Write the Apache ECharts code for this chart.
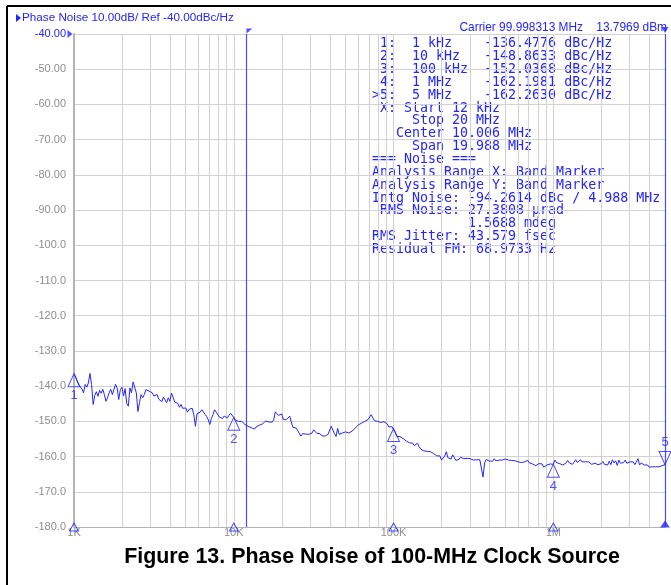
<!DOCTYPE html>
<html>
<head>
<meta charset="utf-8">
<script src="https://cdn.jsdelivr.net/npm/echarts@6/dist/echarts.min.js"></script>
<style>
  html, body { margin: 0; padding: 0; background: #fff; }
  #chart { width: 671px; height: 585px; }
</style>
</head>
<body>
<div id="chart"></div>
<script>
// offset frequency in kHz (log spaced)
const freqKHz = [
  1.000, 1.047, 1.096, 1.148, 1.202, 1.259, 1.318, 1.380, 1.445, 1.514, 1.585, 1.660, 1.738, 1.820, 1.905, 1.995, 2.089,
  2.188, 2.291, 2.399, 2.512, 2.630, 2.754, 2.884, 3.020, 3.162, 3.311, 3.467, 3.631, 3.802, 3.981, 4.169, 4.365, 4.571,
  4.786, 5.012, 5.248, 5.495, 5.754, 6.026, 6.310, 6.607, 6.918, 7.244, 7.586, 7.943, 8.318, 8.710, 9.120, 9.550,
  10.00, 10.47, 10.96, 11.48, 12.02, 12.59, 13.18, 13.80, 14.45, 15.14, 15.85, 16.60, 17.38, 18.20, 19.05, 19.95, 20.89,
  21.88, 22.91, 23.99, 25.12, 26.30, 27.54, 28.84, 30.20, 31.62, 33.11, 34.67, 36.31, 38.02, 39.81, 41.69, 43.65, 45.71,
  47.86, 50.12, 52.48, 54.95, 57.54, 60.26, 63.10, 66.07, 69.18, 72.44, 75.86, 79.43, 83.18, 87.10, 91.20, 95.50,
  100.0, 104.7, 109.6, 114.8, 120.2, 125.9, 131.8, 138.0, 144.5, 151.4, 158.5, 166.0, 173.8, 182.0, 190.5, 199.5, 208.9,
  218.8, 229.1, 239.9, 251.2, 263.0, 275.4, 288.4, 302.0, 316.2, 331.1, 346.7, 363.1, 380.2, 398.1, 416.9, 436.5, 457.1,
  478.6, 501.2, 524.8, 549.5, 575.4, 602.6, 631.0, 660.7, 691.8, 724.4, 758.6, 794.3, 831.8, 871.0, 912.0, 955.0,
  1000, 1047, 1096, 1148, 1202, 1259, 1318, 1380, 1445, 1514, 1585, 1660, 1738, 1820, 1905, 1995, 2089,
  2188, 2291, 2399, 2512, 2630, 2754, 2884, 3020, 3162, 3311, 3467, 3631, 3802, 3981, 4169, 4365, 4571, 4786, 5000
];
// phase noise at freqKHz, dBc/Hz
const phaseNoise = [
  -136.5, -138.6, -139.3, -141.9, -140.3, -136.4, -145.2, -141.6, -141.2, -140.9,
  -144.3, -141.9, -142.4, -139.5, -143.8, -140.3, -140.7, -145.7, -141.9, -139.1,
  -147.2, -142.4, -142.4, -141.2, -140.9, -142.8, -142.4, -143.5, -143.1, -144.7,
  -144.3, -143.1, -144.0, -146.0, -146.3, -146.2, -146.6, -146.3, -151.4, -147.3,
  -146.7, -148.0, -149.5, -149.2, -146.7, -147.9, -148.6, -148.5, -149.0, -147.7,
  -148.9, -149.9, -150.3, -150.4, -150.5, -150.9, -151.5, -151.6, -151.1, -150.7,
  -149.9, -150.2, -150.2, -147.3, -148.3, -147.9, -149.1, -149.8, -150.2, -152.2,
  -152.6, -154.2, -153.7, -153.7, -153.5, -152.4, -153.4, -153.5, -153.8, -154.6,
  -154.2, -151.8, -154.3, -153.7, -153.3, -153.0, -153.3, -152.8, -151.9, -151.0,
  -150.5, -150.0, -149.5, -148.1, -149.8, -150.0, -150.3, -150.1, -150.7, -151.6,
  -152.0, -154.3, -154.3, -154.9, -155.6, -156.1, -156.2, -156.7, -157.2, -158.2,
  -158.2, -158.7, -158.9, -159.1, -159.5, -161.0, -159.9, -160.3, -160.7, -160.3,
  -160.7, -160.2, -160.6, -160.5, -160.6, -161.0, -160.9, -160.9, -165.8, -160.8,
  -161.3, -161.3, -161.2, -161.0, -161.0, -160.7, -161.0, -161.1, -161.2, -161.5,
  -161.7, -161.5, -161.1, -161.3, -161.9, -162.4, -161.5, -163.0, -162.4, -162.1,
  -162.2, -161.7, -162.0, -162.4, -161.8, -161.8, -162.2, -160.9, -161.4, -161.5,
  -161.5, -161.5, -162.2, -161.9, -162.3, -162.0, -162.2, -162.4, -162.3, -161.8,
  -162.5, -161.9, -161.7, -161.9, -161.5, -161.5, -161.5, -162.4, -162.3, -162.7,
  -163.0, -162.9, -162.9, -162.9, -162.6, -162.3
];
// in-between sweep points, kHz
const freqKHzMid = [
  1.023, 1.072, 1.122, 1.175, 1.230, 1.288, 1.349, 1.413, 1.479, 1.549, 1.622, 1.698, 1.778, 1.862, 1.950, 2.042, 2.138,
  2.239, 2.344, 2.455, 2.570, 2.692, 2.818, 2.951, 3.090, 3.236, 3.388, 3.548, 3.715, 3.890, 4.074, 4.266, 4.467, 4.677,
  4.898, 5.129, 5.370, 5.623, 5.888, 6.166, 6.457, 6.761, 7.079, 7.413, 7.762, 8.128, 8.511, 8.913, 9.333, 9.772,
  10.23, 10.72, 11.22, 11.75, 12.30, 12.88, 13.49, 14.13, 14.79, 15.49, 16.22, 16.98, 17.78, 18.62, 19.50, 20.42, 21.38,
  22.39, 23.44, 24.55, 25.70, 26.92, 28.18, 29.51, 30.90, 32.36, 33.88, 35.48, 37.15, 38.90, 40.74, 42.66, 44.67, 46.77,
  48.98, 51.29, 53.70, 56.23, 58.88, 61.66, 64.57, 67.61, 70.79, 74.13, 77.62, 81.28, 85.11, 89.13, 93.33, 97.72,
  102.3, 107.2, 112.2, 117.5, 123.0, 128.8, 134.9, 141.3, 147.9, 154.9, 162.2, 169.8, 177.8, 186.2, 195.0, 204.2, 213.8,
  223.9, 234.4, 245.5, 257.0, 269.2, 281.8, 295.1, 309.0, 323.6, 338.8, 354.8, 371.5, 389.0, 407.4, 426.6, 446.7, 467.7,
  489.8, 512.9, 537.0, 562.3, 588.8, 616.6, 645.7, 676.1, 707.9, 741.3, 776.2, 812.8, 851.1, 891.3, 933.3, 977.2,
  1023, 1072, 1122, 1175, 1230, 1288, 1349, 1413, 1479, 1549, 1622, 1698, 1778, 1862, 1950, 2042, 2138,
  2239, 2344, 2455, 2570, 2692, 2818, 2951, 3090, 3236, 3388, 3548, 3715, 3890, 4074, 4266, 4467, 4677, 4898
];
const phaseNoiseMid = [
  -137.4, -139.7, -140.8, -139.5, -139.1, -139.5, -142.6, -142.9, -142.0, -142.4,
  -143.3, -140.9, -142.8, -140.5, -141.0, -142.8, -144.9, -140.5, -138.8, -141.9,
  -144.7, -143.3, -141.0, -141.4, -141.9, -142.7, -143.7, -144.4, -143.9, -143.3,
  -142.0, -144.5, -144.9, -145.2, -145.9, -147.4, -146.2, -148.1, -147.8, -147.4,
  -147.3, -148.6, -150.9, -148.1, -147.4, -148.8, -149.2, -148.9, -148.3, -148.1,
  -149.7, -150.0, -150.0, -150.9, -151.4, -151.8, -152.2, -151.7, -151.3, -150.7,
  -150.0, -150.1, -149.6, -147.6, -148.0, -149.5, -149.5, -148.5, -151.7, -151.9,
  -152.4, -153.5, -153.6, -153.7, -153.3, -152.3, -153.6, -154.1, -154.2, -153.7,
  -151.4, -153.5, -152.0, -153.3, -153.0, -153.1, -153.3, -152.6, -151.8, -151.3,
  -150.8, -150.3, -149.0, -148.5, -149.9, -150.1, -150.4, -149.9, -151.6, -151.5,
  -153.1, -154.6, -154.8, -155.2, -155.4, -156.6, -156.9, -156.2, -157.9, -158.4,
  -158.5, -158.6, -159.1, -159.8, -159.8, -161.1, -158.6, -159.9, -159.5, -161.1,
  -160.8, -160.1, -161.1, -160.4, -160.6, -161.1, -161.3, -160.5, -161.8, -160.4,
  -160.8, -160.6, -160.9, -161.3, -161.2, -160.8, -161.2, -160.9, -161.3, -161.3,
  -161.2, -161.3, -161.8, -162.1, -162.6, -162.0, -162.1, -162.8, -162.2, -162.3,
  -161.0, -161.5, -161.9, -162.1, -161.1, -161.3, -161.9, -161.7, -160.9, -161.6,
  -162.0, -161.8, -162.1, -161.8, -161.9, -161.4, -161.8, -161.3, -160.9, -161.2,
  -161.0, -161.4, -161.0, -161.9, -161.8, -162.3, -160.6, -161.8, -162.4, -162.4,
  -162.7, -162.8, -162.8, -162.7, -162.4
];

// markers
const markerFreqs = [1, 10, 100, 1000, 5000];
const markerVals = [-136.4776, -148.8633, -152.0368, -162.1981, -162.2630];
const markerNames = ['1', '2', '3', '4', '5'];

// band marker (12 kHz .. 5 MHz)
const bandStart = 12;
const bandStop = 5000;

// log minor grid lines
const minorGridFreqs = [2, 3, 4, 5, 6, 7, 8, 9, 20, 30, 40, 50, 60, 70, 80, 90,
  200, 300, 400, 500, 600, 700, 800, 900, 2000, 3000, 4000];

const yTickValues = [-40, -50, -60, -70, -80, -90, -100, -110, -120, -130, -140, -150, -160, -170, -180];
const yTickLabels = ['-40.00', '-50.00', '-60.00', '-70.00', '-80.00', '-90.00', '-100.0', '-110.0',
  '-120.0', '-130.0', '-140.0', '-150.0', '-160.0', '-170.0', '-180.0'];
const xTickValues = [1, 10, 100, 1000];
const xTickLabels = ['1K', '10K', '100K', '1M'];

const infoLines = [
  ' 1:  1 kHz    -136.4776 dBc/Hz',
  ' 2:  10 kHz   -148.8633 dBc/Hz',
  ' 3:  100 kHz  -152.0368 dBc/Hz',
  ' 4:  1 MHz    -162.1981 dBc/Hz',
  '>5:  5 MHz    -162.2630 dBc/Hz',
  ' X: Start 12 kHz',
  '     Stop 20 MHz',
  '   Center 10.006 MHz',
  '     Span 19.988 MHz',
  '=== Noise ===',
  'Analysis Range X: Band Marker',
  'Analysis Range Y: Band Marker',
  'Intg Noise: -94.2614 dBc / 4.988 MHz',
  ' RMS Noise: 27.3808 \u00b5rad',
  '            1.5688 mdeg',
  'RMS Jitter: 43.579 fsec',
  'Residual FM: 68.9733 Hz'
];

const BLUE = '#2424ff';
const GRID = '#d2d2d2';
const LABEL_GRAY = '#8e8e8e';

const trace = freqKHz.map((f, i) => [f, phaseNoise[i]])
  .concat(freqKHzMid.map((f, i) => [f, phaseNoiseMid[i]]))
  .sort((a, b) => a[0] - b[0]);

const markerData = markerFreqs.map((f, i) => {
  const down = i === markerFreqs.length - 1;
  return {
    value: [f, markerVals[i]],
    symbol: down ? 'path://M0,0L10,0L5,10Z' : 'triangle',
    symbolOffset: [0, down ? '-50%' : '50%'],
    label: { position: down ? 'top' : 'bottom' }
  };
});

const chart = echarts.init(document.getElementById('chart'));

const option = {
  animation: false,
  grid: { left: 74, top: 34, right: 6, bottom: 58, containLabel: false },
  xAxis: {
    type: 'log',
    logBase: 10,
    min: 1,
    max: 5000,
    axisLine: { lineStyle: { color: '#b4b4b4', width: 1 } },
    axisTick: { show: false },
    splitLine: { show: true, lineStyle: { color: GRID, width: 1 } },
    axisLabel: {
      color: LABEL_GRAY,
      fontSize: 11,
      fontFamily: 'Liberation Sans',
      margin: 0,
      formatter: v => {
        const i = xTickValues.findIndex(t => Math.abs(t - v) < 1e-6 * t);
        return i >= 0 ? xTickLabels[i] : '';
      }
    }
  },
  yAxis: {
    type: 'value',
    min: -180,
    max: -40,
    interval: 10,
    axisLine: { show: true, lineStyle: { color: '#b4b4b4', width: 2 } },
    axisTick: { show: false },
    splitLine: { show: true, lineStyle: { color: GRID, width: 1 } },
    axisLabel: {
      margin: 8,
      fontSize: 11,
      fontFamily: 'Liberation Sans',
      color: LABEL_GRAY,
      formatter: v => {
        const i = yTickValues.indexOf(v);
        const s = i >= 0 ? yTickLabels[i] : '';
        return v === -40 ? '{ref|' + s + '}' : s;
      },
      rich: { ref: { color: BLUE, fontSize: 11, fontFamily: 'Liberation Sans' } }
    }
  },
  series: [
    {
      // log minor grid
      type: 'line',
      data: [],
      z: 1,
      silent: true,
      markLine: {
        silent: true,
        z: 1,
        symbol: ['none', 'none'],
        label: { show: false },
        lineStyle: { color: GRID, width: 1, type: 'solid' },
        data: minorGridFreqs.map(f => ({ xAxis: f }))
      }
    },
    {
      name: 'Phase Noise',
      type: 'line',
      data: trace,
      showSymbol: false,
      symbol: 'none',
      z: 3,
      lineStyle: { color: BLUE, width: 1 },
      markLine: {
        silent: true,
        z: 2,
        symbol: ['none', 'none'],
        label: { show: false },
        lineStyle: { color: '#4a4aff', width: 1.2, type: 'solid' },
        data: [{ xAxis: bandStart }, { xAxis: bandStop }]
      }
    },
    {
      name: 'Markers',
      type: 'scatter',
      z: 4,
      clip: false,
      symbolSize: [12, 13],
      itemStyle: { color: 'rgba(0,0,0,0)', borderColor: BLUE, borderWidth: 1 },
      label: {
        show: true,
        distance: 2,
        color: BLUE,
        fontSize: 13,
        fontFamily: 'Liberation Sans',
        formatter: p => markerNames[p.dataIndex]
      },
      data: markerData
    },
    {
      // marker positions on the frequency axis
      type: 'scatter',
      z: 4,
      clip: false,
      symbol: 'triangle',
      symbolSize: [9, 8],
      itemStyle: { color: 'rgba(0,0,0,0)', borderColor: BLUE, borderWidth: 1 },
      data: markerFreqs.slice(0, 4).map(f => [f, -180])
    },
    {
      // reference level / band marker flags
      type: 'scatter',
      z: 4,
      clip: false,
      silent: true,
      itemStyle: { color: BLUE },
      data: [
        { value: [1, -40], symbol: 'path://M0,0L8,5L0,10Z', symbolSize: [5, 8], symbolOffset: [-4, 0] },
        { value: [bandStart, -40], symbol: 'path://M0,0L10,0L0,8Z', symbolSize: [6, 5], symbolOffset: [3, -3] },
        { value: [bandStop, -180], symbol: 'triangle', symbolSize: [10, 7], symbolOffset: [0, -3] },
        { value: [bandStop, -40], symbol: 'path://M0,0L10,0L5,8Z', symbolSize: [7, 6], symbolOffset: [0, -4] }
      ]
    }
  ],
  graphic: [
    { type: 'line', shape: { x1: 7, y1: 6, x2: 671, y2: 6 }, style: { stroke: '#000', lineWidth: 2 }, silent: true },
    { type: 'line', shape: { x1: 7, y1: 6, x2: 7, y2: 585 }, style: { stroke: '#000', lineWidth: 2 }, silent: true },
    { type: 'polygon', shape: { points: [[16, 14], [21, 18], [16, 22]] }, style: { fill: BLUE }, silent: true },
    {
      type: 'text', x: 22, y: 18, silent: true,
      style: {
        text: 'Phase Noise 10.00dB/ Ref -40.00dBc/Hz',
        font: '11.7px "Liberation Sans"', fill: BLUE, textVerticalAlign: 'middle'
      }
    },
    {
      type: 'text', x: 667, y: 28, silent: true,
      style: {
        text: 'Carrier 99.998313 MHz    13.7969 dBm',
        font: '11.9px "Liberation Sans"', fill: BLUE, textAlign: 'right', textVerticalAlign: 'middle'
      }
    },
    {
      type: 'text', x: 372, y: 37.5, silent: true,
      style: {
        text: infoLines.join('\n'),
        font: '13.3px "DejaVu Sans Mono"', lineHeight: 12.85, fill: BLUE
      }
    },
    {
      type: 'text', x: 372, y: 557, silent: true,
      style: {
        text: 'Figure 13. Phase Noise of 100-MHz Clock Source',
        font: 'bold 21.4px "Liberation Sans"', fill: '#000', textAlign: 'center', textVerticalAlign: 'middle'
      }
    }
  ]
};

chart.setOption(option);
</script>
</body>
</html>
